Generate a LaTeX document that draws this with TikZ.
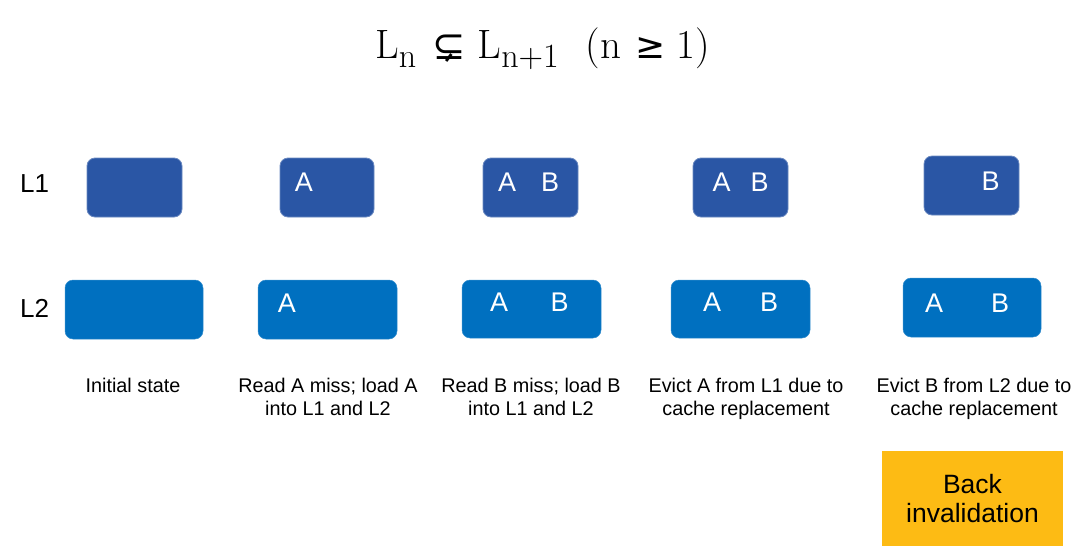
\documentclass[tikz,border=0pt]{standalone}
\usepackage{fontspec}
\setsansfont{Liberation Sans}
\newfontfamily\symfnt{DejaVu Sans}
\definecolor{lonecol}{RGB}{42,86,165}
\definecolor{ltwocol}{RGB}{0,112,192}
\definecolor{backcol}{RGB}{253,187,20}
\newcommand{\subtxt}[1]{\raisebox{-9.5pt}{\fontsize{34}{35}\selectfont #1}}
\newcommand{\bigsym}[2]{{\symfnt\fontsize{#1}{#1}\selectfont #2}}
\begin{document}
\begin{tikzpicture}[x=1pt,y=-1pt,
  lone/.style={fill=lonecol,draw=lonecol!70!white,line width=0.8pt,rounded corners=8pt},
  ltwo/.style={fill=ltwocol,draw=ltwocol!80!white,line width=0.5pt,rounded corners=8pt},
  letter/.style={text=white,font=\sffamily\fontsize{27}{30}\selectfont,inner sep=0pt},
  rowlab/.style={font=\sffamily\fontsize{26}{30}\selectfont,inner sep=0pt,anchor=base west},
  caption/.style={font=\sffamily\fontsize{19.8}{23}\selectfont,align=center,inner sep=0pt,anchor=north},
  backtext/.style={font=\sffamily\fontsize{26.5}{29}\selectfont,align=center,inner sep=0pt}]
\useasboundingbox (0,0) rectangle (1090,555);
% title
\node[anchor=base west,inner sep=0pt,font=\fontsize{41}{46}\selectfont] (title) at (375,58)
  {L\subtxt{n}\hspace{16pt}\raisebox{-1pt}{\bigsym{40}{⊊}}\hspace{12pt}L\subtxt{n+1}\hspace{27pt}(n\hspace{14pt}\bigsym{36}{≥}\hspace{11pt}1)};
% row labels
\node[rowlab] (lab1) at (20,192) {L1};
\node[rowlab] (lab2) at (20,317) {L2};
% L1 boxes
\path[lone] (87,158) rectangle (182,217); \node (a1) at (134.5,187.5) {};
\path[lone] (280,158) rectangle (374,217); \node (a2) at (327,187.5) {};
\path[lone] (483,158) rectangle (578,217); \node (a3) at (530.5,187.5) {};
\path[lone] (693,158) rectangle (788,217); \node (a4) at (740.5,187.5) {};
\path[lone] (924,156) rectangle (1019,215); \node (a5) at (971.5,185.5) {};
% L2 boxes
\path[ltwo] (65,280) rectangle (203,339); \node (b1) at (134,309.5) {};
\path[ltwo] (258,280) rectangle (397,339); \node (b2) at (327.5,309.5) {};
\path[ltwo] (462,280) rectangle (601,338); \node (b3) at (531.5,309) {};
\path[ltwo] (671,280) rectangle (810,338); \node (b4) at (740.5,309) {};
\path[ltwo] (903,278) rectangle (1041,337); \node (b5) at (972,307.5) {};
% letters L1
\node[letter] (t2a) at (304,182) {A};
\node[letter] (t3a) at (507,182) {A};
\node[letter] (t3b) at (550,182) {B};
\node[letter] (t4a) at (721.5,182) {A};
\node[letter] (t4b) at (759.5,182) {B};
\node[letter] (t5b) at (990.5,181.5) {B};
% letters L2
\node[letter] (u2a) at (287,303) {A};
\node[letter] (u3a) at (499,302) {A};
\node[letter] (u3b) at (559.5,302) {B};
\node[letter] (u4a) at (712,302) {A};
\node[letter] (u4b) at (769,302) {B};
\node[letter] (u5a) at (934,303) {A};
\node[letter] (u5b) at (1000,303) {B};
% captions
\node[caption] (c1) at (133,377.5) {Initial state};
\node[caption] (c2) at (328,377.5) {Read A miss; load A\\into L1 and L2};
\node[caption] (c3) at (531,377.5) {Read B miss; load B\\into L1 and L2};
\node[caption] (c4) at (746,377.5) {Evict A from L1 due to\\cache replacement};
\node[caption] (c5) at (974,377.5) {Evict B from L2 due to\\cache replacement};
% back invalidation
\path[fill=backcol] (882,451) rectangle (1063,546);
\node[backtext] (back) at (972.5,498.5) {Back\\invalidation};
\end{tikzpicture}
\end{document}
